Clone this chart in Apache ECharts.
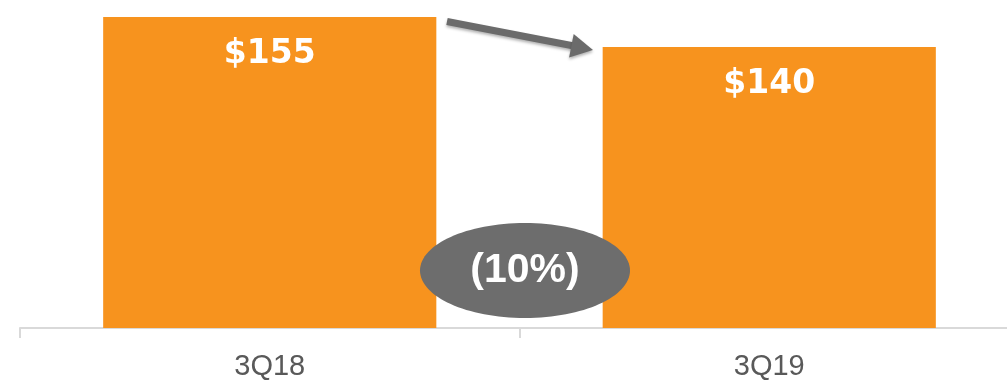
<!DOCTYPE html>
<html>
<head>
<meta charset="utf-8">
<script src="https://cdn.jsdelivr.net/npm/echarts@6/dist/echarts.min.js"></script>
<style>
  html, body { margin: 0; padding: 0; background: #fff; overflow: hidden; }
  /* a bit wider than the window: the axis runs off the right edge */
  #chart { width: 1019px; height: 382px; }
</style>
</head>
<body>
<div id="chart"></div>
<script>
// data
const quarters = ["3Q18", "3Q19"];
const revenue = [155, 140];
const changeLabel = "(10%)";

let myChart = echarts.init(document.getElementById("chart"));

let option = {
  animation: false,
  grid: {
    left: 20,
    right: 0,
    top: 17,
    bottom: 54
  },
  xAxis: {
    type: "category",
    data: quarters,
    axisLine: {
      lineStyle: { color: "#d9d9d9", width: 2 }
    },
    axisTick: {
      show: true,
      alignWithLabel: false,
      length: 10,
      lineStyle: { color: "#d9d9d9", width: 2 }
    },
    axisLabel: {
      color: "#595959",
      fontFamily: "Liberation Sans",
      fontSize: 29,
      margin: 24
    }
  },
  yAxis: {
    type: "value",
    min: 0,
    max: 155,
    show: false,
    splitLine: { show: false }
  },
  series: [
    {
      type: "bar",
      data: revenue,
      barWidth: "66.7%",
      itemStyle: { color: "#F7931E" },
      label: {
        show: true,
        position: "insideTop",
        distance: 21,
        formatter: "${c}",
        color: "#fff",
        fontFamily: "DejaVu Sans",
        fontWeight: "bold",
        fontSize: 33
      }
    }
  ],
  graphic: [
    // arrow between the bars
    {
      type: "group",
      z: 5,
      children: [
        {
          type: "line",
          shape: { x1: 447, y1: 21.5, x2: 574, y2: 46 },
          style: {
            stroke: "#6b6b6b",
            lineWidth: 7,
            shadowColor: "rgba(0,0,0,0.3)",
            shadowBlur: 3,
            shadowOffsetY: 2
          }
        },
        {
          type: "polygon",
          shape: { points: [[593, 50], [573.7, 33.9], [569.1, 57.5]] },
          style: {
            fill: "#6b6b6b",
            shadowColor: "rgba(0,0,0,0.3)",
            shadowBlur: 3,
            shadowOffsetY: 2
          }
        }
      ]
    },
    // change bubble
    {
      type: "ellipse",
      z: 10,
      shape: { cx: 525, cy: 270.5, rx: 105, ry: 47.5 },
      style: { fill: "#6d6d6d" }
    },
    {
      type: "text",
      z: 11,
      x: 525,
      y: 271,
      style: {
        text: changeLabel,
        fill: "#fff",
        fontFamily: "Liberation Sans",
        fontWeight: "bold",
        fontSize: 41,
        align: "center",
        verticalAlign: "middle"
      }
    }
  ]
};

myChart.setOption(option);
window.addEventListener("resize", () => {
  myChart.resize();
});
</script>
</body>
</html>
